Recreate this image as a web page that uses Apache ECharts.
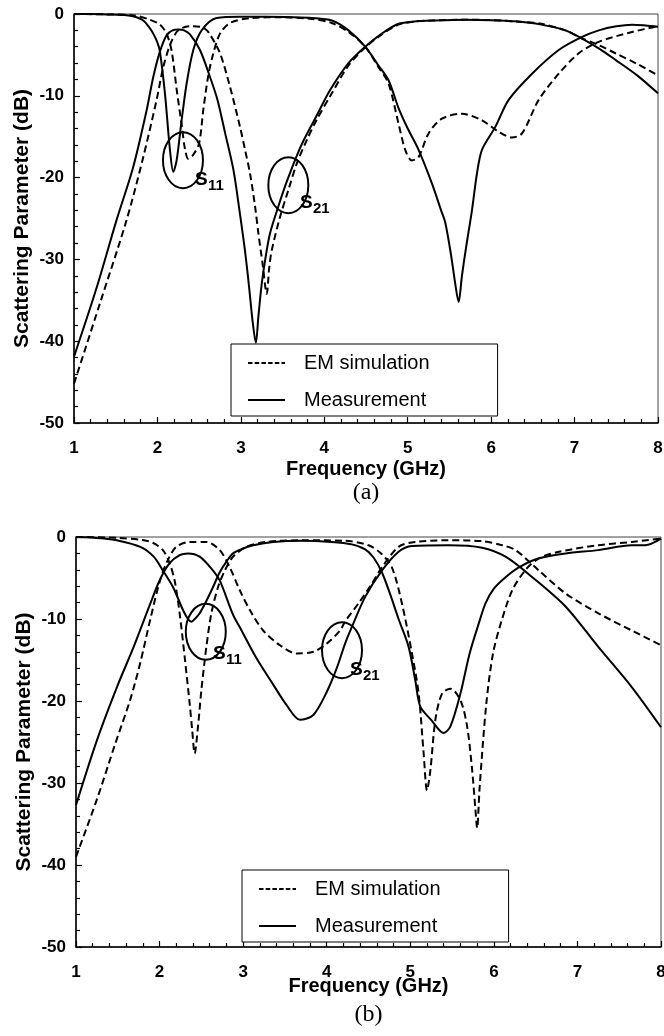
<!DOCTYPE html>
<html><head><meta charset="utf-8">
<script src="https://cdn.jsdelivr.net/npm/echarts/dist/echarts.min.js"></script>
<style>html,body{margin:0;padding:0;background:#fff}#c{width:664px;height:1036px}</style>
</head><body><div id="c"></div><script>
// ---------- data (frequency GHz, dB) ----------
const aS21Meas = [[1.0,-41.9],[1.27,-33.5],[1.51,-25.2],[1.71,-18.7],[1.87,-11.8],[1.95,-7.7],[2.03,-4.6],[2.11,-2.6],[2.18,-2.0],[2.25,-1.9],[2.32,-2.0],[2.39,-2.5],[2.51,-4.4],[2.63,-7.7],[2.72,-10.5],[2.81,-14.5],[2.91,-19.0],[2.99,-24.5],[3.05,-29],[3.10,-33.5],[3.14,-37.5],[3.18,-40.2],[3.21,-37],[3.25,-33],[3.30,-29.5],[3.35,-26.8],[3.45,-23.5],[3.55,-20.5],[3.7,-16.6],[3.8,-14.5],[3.9,-12.6],[4.07,-9.3],[4.29,-6.0],[4.49,-4.0],[4.69,-2.4],[4.89,-1.2],[5.1,-0.9],[5.29,-0.8],[5.69,-0.7],[6.0,-0.75],[6.29,-0.9],[6.6,-1.3],[6.89,-2.0],[7.09,-3.0],[7.29,-4.2],[7.49,-5.6],[7.75,-7.5],[8.0,-9.7]];
const aS21Sim = [[1.0,-45.2],[1.31,-35.4],[1.63,-25.2],[1.83,-17.5],[1.99,-10.5],[2.07,-6.5],[2.15,-3.8],[2.23,-2.2],[2.30,-1.7],[2.40,-1.5],[2.51,-1.55],[2.58,-1.9],[2.63,-2.5],[2.75,-4.8],[2.87,-8.9],[2.99,-13.8],[3.05,-16.6],[3.11,-19.5],[3.17,-23.5],[3.21,-26.8],[3.26,-30.5],[3.31,-34.2],[3.34,-31],[3.37,-28.9],[3.47,-24.8],[3.57,-21.5],[3.67,-18.3],[3.8,-15.2],[3.9,-13.1],[4.09,-9.7],[4.29,-6.3],[4.49,-4.1],[4.69,-2.5],[4.89,-1.3],[5.1,-0.9],[5.29,-0.8],[5.69,-0.7],[6.0,-0.75],[6.29,-0.9],[6.6,-1.2],[6.89,-2.0],[7.05,-2.8],[7.29,-3.8],[7.49,-4.8],[7.75,-6.1],[8.0,-7.5]];
const aS11Meas = [[1.0,0],[1.2,0],[1.4,-0.05],[1.63,-0.15],[1.75,-0.4],[1.83,-0.8],[1.90,-1.6],[1.95,-2.4],[2.0,-3.5],[2.03,-4.6],[2.09,-9.7],[2.15,-16.6],[2.19,-19.3],[2.23,-17.9],[2.29,-13.0],[2.35,-8.5],[2.43,-4.4],[2.53,-2.0],[2.71,-0.5],[3.0,-0.35],[3.3,-0.35],[3.6,-0.4],[3.85,-0.5],[4.09,-0.8],[4.29,-2.0],[4.49,-4.0],[4.65,-6.3],[4.77,-8.1],[4.89,-11.5],[5.0,-14],[5.13,-16.6],[5.29,-20.7],[5.40,-24],[5.45,-25.5],[5.52,-29.5],[5.57,-33],[5.61,-35.2],[5.65,-32],[5.70,-28.5],[5.77,-24],[5.83,-19.5],[5.89,-16.6],[6.05,-13.8],[6.21,-10.5],[6.49,-7.3],[6.81,-4.4],[7.09,-2.8],[7.29,-2.0],[7.5,-1.5],[7.69,-1.3],[7.85,-1.4],[8.0,-1.55]];
const aS11Sim = [[1.0,0],[1.4,-0.05],[1.71,-0.15],[1.91,-0.7],[2.03,-1.3],[2.11,-2.4],[2.17,-4.5],[2.23,-9.2],[2.29,-13.5],[2.33,-16.5],[2.37,-17.7],[2.43,-17.2],[2.50,-15.8],[2.55,-11.7],[2.61,-7.5],[2.67,-4.8],[2.75,-2.4],[2.87,-1.1],[3.11,-0.5],[3.5,-0.4],[3.85,-0.6],[4.09,-1.1],[4.29,-2.2],[4.49,-4.0],[4.65,-6.5],[4.77,-8.5],[4.89,-13.4],[4.97,-16.6],[5.05,-17.9],[5.13,-17.5],[5.25,-14.6],[5.41,-12.8],[5.65,-12.2],[5.89,-13.0],[6.09,-14.4],[6.25,-15.1],[6.37,-14.6],[6.57,-10.5],[6.81,-7.3],[7.05,-4.8],[7.29,-3.4],[7.69,-2.2],[8.0,-1.5]];

const bS21Meas = [[1.0,-32.7],[1.25,-24.8],[1.49,-18.3],[1.69,-13.4],[1.89,-8.1],[2.0,-5.3],[2.12,-3.2],[2.24,-2.2],[2.34,-2.0],[2.48,-2.4],[2.64,-4.1],[2.72,-5.3],[2.88,-9.5],[2.96,-11.0],[3.16,-14.8],[3.36,-18.0],[3.52,-20.5],[3.68,-22.3],[3.84,-21.7],[4.0,-18.9],[4.12,-16.0],[4.22,-13.0],[4.30,-11.0],[4.46,-7.3],[4.66,-4.1],[4.86,-1.8],[5.02,-1.1],[5.46,-1.0],[5.86,-1.3],[6.14,-2.4],[6.46,-4.9],[6.86,-8.5],[7.25,-13.4],[7.65,-18.3],[8.0,-23.2]];
const bS21Sim = [[1.0,-39.0],[1.25,-32.0],[1.47,-25.2],[1.65,-19.8],[1.77,-15.3],[1.89,-10.0],[2.0,-5.5],[2.09,-3.0],[2.20,-1.2],[2.36,-0.6],[2.56,-0.6],[2.72,-1.6],[2.84,-3.7],[2.96,-6.5],[3.08,-8.9],[3.24,-11.4],[3.44,-13.2],[3.64,-14.2],[3.84,-14.0],[4.0,-13.0],[4.16,-11.4],[4.22,-10.3],[4.38,-8.1],[4.54,-5.7],[4.66,-3.7],[4.86,-1.2],[5.06,-0.6],[5.46,-0.4],[5.86,-0.5],[6.1,-1.0],[6.26,-1.6],[6.54,-4.1],[6.86,-6.9],[7.25,-9.3],[7.65,-11.4],[8.0,-13.2]];
const bS11Meas = [[1.0,0],[1.3,-0.15],[1.49,-0.4],[1.77,-1.2],[1.93,-2.4],[2.04,-4.1],[2.16,-6.1],[2.28,-8.9],[2.34,-10.0],[2.38,-10.35],[2.43,-9.9],[2.48,-9.3],[2.56,-7.8],[2.64,-6.1],[2.72,-4.3],[2.80,-3.0],[2.88,-2.0],[3.0,-1.4],[3.12,-1.0],[3.36,-0.6],[3.7,-0.45],[4.06,-0.6],[4.3,-0.9],[4.46,-1.5],[4.56,-2.5],[4.66,-4.3],[4.76,-7.0],[4.86,-10.0],[4.98,-13.4],[5.06,-17.5],[5.12,-20.7],[5.25,-22.3],[5.40,-23.9],[5.48,-23.1],[5.60,-19.1],[5.71,-14.2],[5.83,-10.2],[5.90,-8.1],[6.0,-6.3],[6.14,-4.9],[6.30,-3.7],[6.54,-2.6],[6.86,-2.0],[7.25,-1.6],[7.65,-1.0],[7.81,-1.0],[8.0,-0.2]];
const bS11Sim = [[1.0,0],[1.5,-0.1],[1.81,-0.4],[1.92,-0.7],[2.04,-1.6],[2.12,-3.2],[2.18,-5.3],[2.24,-9.3],[2.30,-14.6],[2.36,-20.3],[2.39,-23.5],[2.42,-26.4],[2.46,-23.1],[2.50,-18.7],[2.56,-13.4],[2.62,-9.3],[2.70,-6.1],[2.78,-4.1],[2.88,-2.4],[3.04,-1.2],[3.28,-0.6],[3.7,-0.4],[4.2,-0.45],[4.5,-1.0],[4.65,-2.0],[4.78,-3.7],[4.90,-8.1],[5.02,-14.2],[5.10,-19.1],[5.16,-26.4],[5.20,-30.9],[5.24,-28.5],[5.30,-22.3],[5.38,-19.1],[5.48,-18.5],[5.60,-19.9],[5.68,-23.1],[5.74,-28.4],[5.78,-33.3],[5.80,-35.5],[5.83,-30.5],[5.91,-20.3],[5.99,-14.2],[6.09,-10.3],[6.22,-6.5],[6.38,-4.0],[6.54,-2.6],[6.78,-1.8],[7.25,-1.0],[7.65,-0.6],[8.0,-0.2]];

const legendNames = ['EM simulation', 'Measurement'];
const xTitle = 'Frequency (GHz)';
const yTitle = 'Scattering Parameter (dB)';
const captions = ['(a)', '(b)'];
// annotation anchors in data units: ellipse centre and label anchor
const annotations = [
  {grid:0, sub:'11', cx:2.306, cy:-17.87, lx:2.45, ly:-20.3},
  {grid:0, sub:'21', cx:3.569, cy:-20.93, lx:3.709, ly:-23.1},
  {grid:1, sub:'11', cx:2.553, cy:-11.57, lx:2.639, ly:-14.2},
  {grid:1, sub:'21', cx:4.183, cy:-13.8, lx:4.279, ly:-16.2}
];

// ---------- chart ----------
const FONT = '"Liberation Sans", Arial, sans-serif';
const chart = echarts.init(document.getElementById('c'), null, {renderer:'canvas'});

function xAx(g){
  return {gridIndex:g, type:'value', min:1, max:8, interval:1,
    name:xTitle, nameLocation:'middle', nameGap:g===0?36:29, nameMoveOverlap:false,
    nameTextStyle:{fontSize:20, fontWeight:'bold', color:'#000', fontFamily:FONT},
    axisLine:{show:true, onZero:false, lineStyle:{color:'#000', width:1.5}},
    axisTick:{show:true, inside:true, length:6, lineStyle:{color:'#000', width:1.2}},
    minorTick:{show:true, splitNumber:5, length:4, lineStyle:{color:'#000', width:1.2}},
    axisLabel:{fontSize:17, fontWeight:'bold', color:'#000', margin:17, fontFamily:FONT},
    splitLine:{show:false}, minorSplitLine:{show:false}};
}
function yAx(g){
  return {gridIndex:g, type:'value', min:-50, max:0, interval:10,
    name:yTitle, nameLocation:'middle', nameGap:41, nameRotate:90, nameMoveOverlap:false,
    nameTextStyle:{fontSize:21, fontWeight:'bold', color:'#000', fontFamily:FONT},
    axisLine:{show:true, onZero:false, lineStyle:{color:'#000', width:1.5}},
    axisTick:{show:true, inside:true, length:6, lineStyle:{color:'#000', width:1.2}},
    minorTick:{show:true, splitNumber:5, length:4, lineStyle:{color:'#000', width:1.2}},
    axisLabel:{fontSize:17, fontWeight:'bold', color:'#000', margin:10, fontFamily:FONT},
    splitLine:{show:false}, minorSplitLine:{show:false}};
}
function ser(name, data, g, dashed){
  return {type:'line', name:name, data:data, xAxisIndex:g, yAxisIndex:g,
    symbol:'none', showSymbol:false, smooth:0.3, silent:true, animation:false,
    lineStyle:{color:'#000', width:2, type: dashed ? [7,4] : 'solid'},
    itemStyle:{color:'#000'}, z:3};
}
function leg(left, top){
  return {orient:'vertical', left:left, top:top, selectedMode:false,
    data:[{name:legendNames[0], lineStyle:{type:[4.5,2.2]}}, {name:legendNames[1]}],
    itemWidth:37, itemHeight:14, itemGap:17, padding:[9,68,6,16],
    itemStyle:{opacity:0}, lineStyle:{width:2},
    borderColor:'#000', borderWidth:1, backgroundColor:'#fff',
    textStyle:{fontSize:20, color:'#000', fontFamily:FONT, padding:[0,0,0,14]}};
}

const option = {
  animation:false,
  backgroundColor:'#fff',
  textStyle:{fontFamily:FONT},
  grid:[
    {left:74, top:14, width:584, height:409, show:true, borderColor:'#444', borderWidth:1, outerBoundsMode:'none', containLabel:false},
    {left:76, top:537, width:585, height:410, show:true, borderColor:'#444', borderWidth:1, outerBoundsMode:'none', containLabel:false}
  ],
  xAxis:[xAx(0), xAx(1)],
  yAxis:[yAx(0), yAx(1)],
  legend:[leg(231,344), leg(242,870)],
  series:[
    ser(legendNames[0], aS21Sim, 0, true),
    ser(legendNames[0], aS11Sim, 0, true),
    ser(legendNames[1], aS21Meas, 0, false),
    ser(legendNames[1], aS11Meas, 0, false),
    ser(legendNames[0], bS21Sim, 1, true),
    ser(legendNames[0], bS11Sim, 1, true),
    ser(legendNames[1], bS21Meas, 1, false),
    ser(legendNames[1], bS11Meas, 1, false)
  ]
};
chart.setOption(option);

// annotations (ellipses + S-parameter labels), positioned through the axes
const gfx = [];
annotations.forEach(a => {
  const c = chart.convertToPixel({xAxisIndex:a.grid, yAxisIndex:a.grid}, [a.cx, a.cy]);
  const l = chart.convertToPixel({xAxisIndex:a.grid, yAxisIndex:a.grid}, [a.lx, a.ly]);
  gfx.push({type:'ellipse', shape:{cx:c[0], cy:c[1], rx:20, ry:28}, z:10,
    style:{fill:'none', stroke:'#000', lineWidth:2}});
  gfx.push({type:'text', x:l[0], y:l[1], z:11,
    style:{text:'S', font:'bold 19px ' + FONT, fill:'#000', textAlign:'left', textVerticalAlign:'middle', align:'left', verticalAlign:'middle'}});
  gfx.push({type:'text', x:l[0] + 13, y:l[1] + 6, z:11,
    style:{text:a.sub, font:'bold 15px ' + FONT, fill:'#000', textAlign:'left', textVerticalAlign:'middle', align:'left', verticalAlign:'middle'}});
});
// captions under each panel
[[0,493],[1,1015]].forEach(([g, y]) => {
  const p0 = chart.convertToPixel({xAxisIndex:g, yAxisIndex:g}, [1, 0]);
  const p1 = chart.convertToPixel({xAxisIndex:g, yAxisIndex:g}, [8, 0]);
  gfx.push({type:'text', x:(p0[0]+p1[0])/2, y:y, z:11,
    style:{text:captions[g], font:'24px "Liberation Serif", "Times New Roman", serif', fill:'#000', textAlign:'center', textVerticalAlign:'middle', align:'center', verticalAlign:'middle'}});
});
chart.setOption({graphic:gfx});
</script></body></html>
